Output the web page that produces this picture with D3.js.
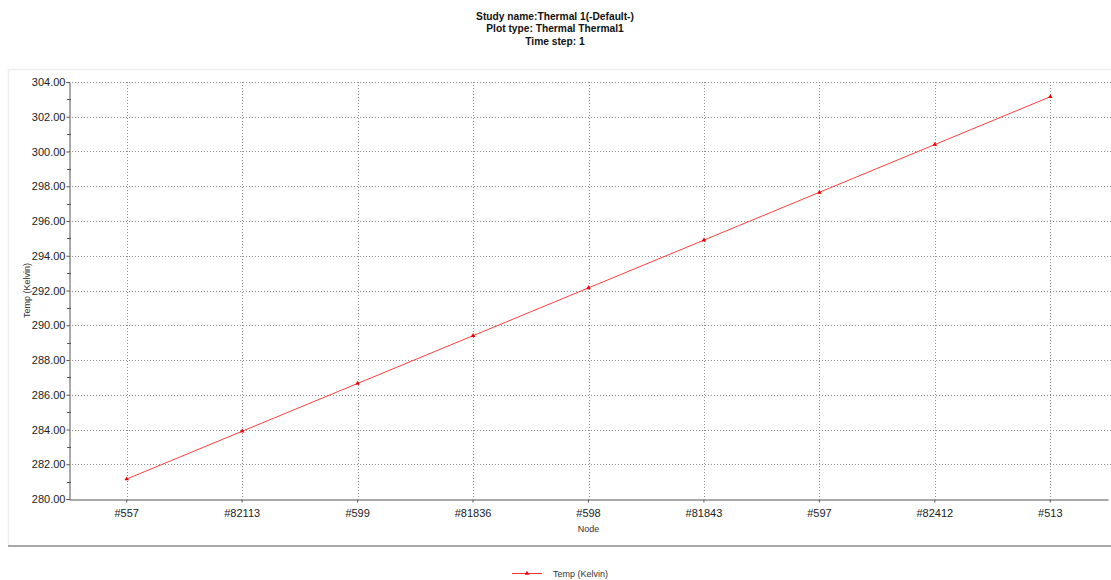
<!DOCTYPE html>
<html>
<head>
<meta charset="utf-8">
<script src="https://cdn.jsdelivr.net/npm/d3@7"></script>
<style>
  body { margin: 0; background: #fff; }
  svg { display: block; }
</style>
</head>
<body>
<div id="wrapper"></div>
<script>
// chart data
const titleLines = ["Study name:Thermal 1(-Default-)", "Plot type: Thermal Thermal1", "Time step: 1"]
const nodes = ["#557", "#82113", "#599", "#81836", "#598", "#81843", "#597", "#82412", "#513"]
const temps = [281.15, 283.9, 286.65, 289.4, 292.15, 294.9, 297.65, 300.4, 303.15]
const yMajorTicks = [280, 282, 284, 286, 288, 290, 292, 294, 296, 298, 300, 302, 304]
const yMinorTicks = [281, 283, 285, 287, 289, 291, 293, 295, 297, 299, 301, 303]
const seriesName = "Temp (Kelvin)"

function drawChart() {
    let dims = {
        width: 1111,
        height: 580,
        margin: { top: 82, right: 3, bottom: 81, left: 69 },
    }
    dims.boundWidth = dims.width - dims.margin.left - dims.margin.right
    dims.boundHeight = dims.height - dims.margin.top - dims.margin.bottom

    const svg = d3.select("#wrapper")
        .append("svg")
            .attr("width", dims.width)
            .attr("height", dims.height)

    // title block (condensed bold, like the original narrow font)
    svg.append("g")
        .attr("transform", "translate(555,0) scale(0.93,1)")
        .selectAll("text")
        .data(titleLines)
        .join("text")
            .attr("x", 0)
            .attr("y", (d, i) => 20 + i * 12.5)
            .attr("text-anchor", "middle")
            .attr("font-family", "'Liberation Sans Narrow', 'Arial Narrow', 'Liberation Sans', sans-serif")
            .attr("font-weight", "bold")
            .attr("font-size", 11)
            .attr("fill", "#111")
            .text(d => d)

    // panel frame
    svg.append("line").attr("x1", 8).attr("x2", 1111).attr("y1", 69.5).attr("y2", 69.5)
        .attr("stroke", "#eeeeee").attr("stroke-width", 1.5)
    svg.append("line").attr("x1", 8.5).attr("x2", 8.5).attr("y1", 69).attr("y2", 546)
        .attr("stroke", "#eeeeee").attr("stroke-width", 1.5)
    svg.append("line").attr("x1", 8).attr("x2", 1111).attr("y1", 546).attr("y2", 546)
        .attr("stroke", "#a8a8a8").attr("stroke-width", 2)

    const bound = svg.append("g")
        .attr("transform", `translate(${dims.margin.left},${dims.margin.top})`)

    const xScale = d3.scaleBand()
        .domain(nodes)
        .range([0, dims.boundWidth])

    const yScale = d3.scaleLinear()
        .domain([280, 304])
        .range([dims.boundHeight, 0])

    const xCenter = d => xScale(d) + xScale.bandwidth() / 2

    // dotted grid
    bound.append("g").selectAll("line")
        .data(yMajorTicks.slice(1))
        .join("line")
            .attr("x1", 0)
            .attr("x2", dims.boundWidth + 3)
            .attr("y1", d => Math.round(yScale(d)) + 0.5)
            .attr("y2", d => Math.round(yScale(d)) + 0.5)
            .attr("stroke", "#8c8c8c")
            .attr("stroke-dasharray", "1,2")
    bound.append("g").selectAll("line")
        .data(nodes)
        .join("line")
            .attr("x1", d => Math.round(xCenter(d)) + 0.5)
            .attr("x2", d => Math.round(xCenter(d)) + 0.5)
            .attr("y1", 0)
            .attr("y2", dims.boundHeight)
            .attr("stroke", "#8c8c8c")
            .attr("stroke-dasharray", "1,2")

    // y axis
    const yAxis = d3.axisLeft(yScale)
        .tickValues(yMajorTicks)
        .tickFormat(d3.format(".2f"))
        .tickSize(3)
        .tickPadding(1)
    const yAxisG = bound.append("g").attr("transform", "translate(0.5,0)").call(yAxis)
    yAxisG.select(".domain").attr("stroke", "#555")
    yAxisG.selectAll(".tick line").attr("stroke", "#555")
    yAxisG.selectAll(".tick text")
        .attr("font-family", "Arial, 'Liberation Sans', sans-serif")
        .attr("font-size", 11)
        .attr("fill", "#222")

    // minor ticks on y axis
    bound.append("g").selectAll("line")
        .data(yMinorTicks)
        .join("line")
            .attr("x1", -2)
            .attr("x2", 2)
            .attr("y1", d => Math.round(yScale(d)) + 0.5)
            .attr("y2", d => Math.round(yScale(d)) + 0.5)
            .attr("stroke", "#555")

    // x axis
    const xAxis = d3.axisBottom(xScale)
        .tickSize(3)
        .tickPadding(7)
        .tickSizeOuter(0)
    const xAxisG = bound.append("g")
        .attr("transform", `translate(0,${dims.boundHeight + 0.5})`)
        .call(xAxis)
    xAxisG.select(".domain").attr("stroke", "#555")
    xAxisG.selectAll(".tick line").attr("stroke", "#555")
    xAxisG.selectAll(".tick text")
        .attr("font-family", "Arial, 'Liberation Sans', sans-serif")
        .attr("font-size", 11)
        .attr("fill", "#222")

    // axis titles
    bound.append("text")
        .attr("x", xCenter(nodes[4]))
        .attr("y", dims.boundHeight + 33)
        .attr("text-anchor", "middle")
        .attr("font-family", "Arial, 'Liberation Sans', sans-serif")
        .attr("font-size", 9)
        .attr("fill", "#333")
        .text("Node")
    svg.append("text")
        .attr("transform", `translate(30,${dims.margin.top + dims.boundHeight / 2}) rotate(-90)`)
        .attr("text-anchor", "middle")
        .attr("font-family", "Arial, 'Liberation Sans', sans-serif")
        .attr("font-size", 9)
        .attr("fill", "#333")
        .text("Temp (Kelvin)")

    // line series
    const line = d3.line()
        .x((d, i) => xCenter(nodes[i]))
        .y(d => yScale(d))
    bound.append("path")
        .datum(temps)
        .attr("d", line)
        .attr("fill", "none")
        .attr("stroke", "#ff4040")
        .attr("stroke-width", 1)

    const tri = d3.symbol().type(d3.symbolTriangle).size(9)
    bound.append("g").selectAll("path")
        .data(temps)
        .join("path")
            .attr("d", tri)
            .attr("transform", (d, i) => `translate(${xCenter(nodes[i])},${yScale(d)})`)
            .attr("fill", "#ee0000")

    // legend
    const legend = svg.append("g").attr("transform", "translate(512,573.5)")
    legend.append("line")
        .attr("x1", 0).attr("x2", 30)
        .attr("stroke", "#ff3030")
    legend.append("path")
        .attr("d", tri)
        .attr("transform", "translate(15,0)")
        .attr("fill", "#ee0000")
    legend.append("text")
        .attr("x", 41)
        .attr("y", 3)
        .attr("font-family", "Arial, 'Liberation Sans', sans-serif")
        .attr("font-size", 9)
        .attr("fill", "#333")
        .text(seriesName)
}

drawChart()
</script>
</body>
</html>
